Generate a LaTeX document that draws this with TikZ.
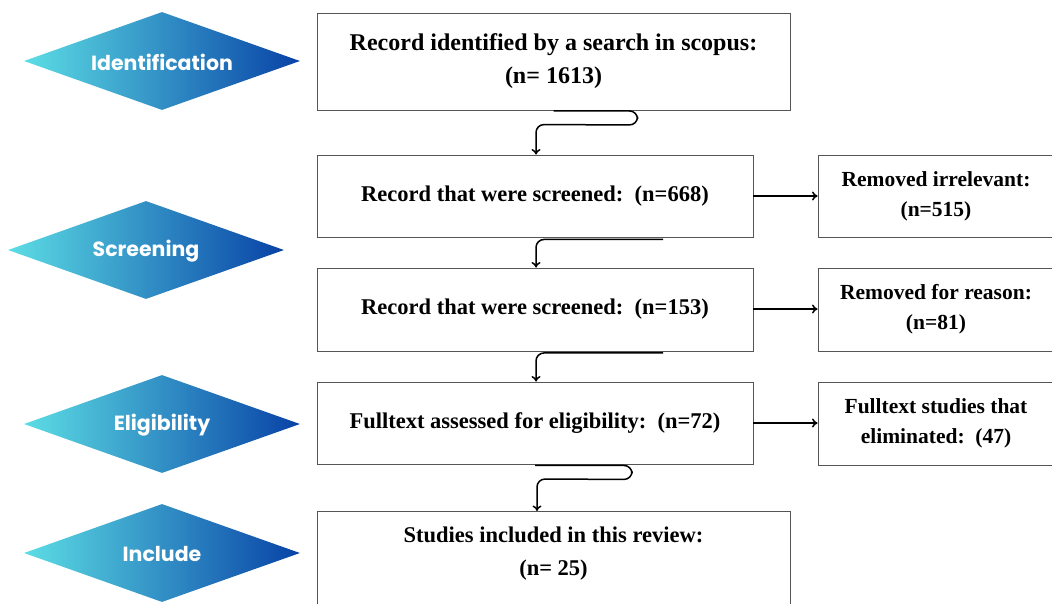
\documentclass[tikz,border=0pt]{standalone}
\usepackage{fontspec}
\setmainfont{Liberation Serif}
\newfontfamily\popfont{Poppins}
\usetikzlibrary{shapes.geometric,arrows.meta,calc}
\definecolor{lightc}{HTML}{5CDDE4}
\definecolor{darkc}{HTML}{0842A6}
\definecolor{boxline}{HTML}{555555}
\tikzset{
  phase/.style={diamond, shape aspect=2.8, inner sep=0pt, minimum width=276pt, minimum height=98pt,
    left color=lightc, right color=darkc, draw=none, text=white,
    font=\popfont\bfseries\fontsize{20.5}{24}\selectfont},
  phasetext/.style={text=white, font=\popfont\bfseries\fontsize{20.5}{24}\selectfont},
  stepbox/.style={rectangle, draw=boxline, line width=0.9pt, fill=white, align=center,
    inner sep=0pt, font=\bfseries\fontsize{22.5}{33}\selectfont},
  sidebox/.style={stepbox, minimum width=236pt, font=\bfseries\fontsize{21.5}{30}\selectfont},
  conn/.style={line width=1.5pt, rounded corners=8pt, -{To[length=5.5pt,width=9pt]}},
  harrow/.style={line width=1.5pt, -{To[length=5.5pt,width=9pt]}}
}
\begin{document}
\begin{tikzpicture}[x=1pt,y=-1pt]
\useasboundingbox[fill=white] (0,0) rectangle (1052,603);
% phase diamonds
\node[phase] (idf) at (162,61) {};
\node[phase] (scr) at (146,250) {};
\node[phase] (elg) at (162,424) {};
\node[phase] (inc) at (162,553) {};
\node[phasetext] (idft) at ($(idf.center)+(0,1.5)$) {Identification};
\node[phasetext] (scrt) at ($(scr.center)+(0,1.5)$) {Screening};
\node[phasetext] (elgt) at ($(elg.center)+(0,1.5)$) {Eligibility};
\node[phasetext] (inct) at ($(inc.center)+(0,1)$) {Include};
% main boxes
\node[stepbox, minimum width=473pt, minimum height=97pt, font=\bfseries\fontsize{24}{33}\selectfont] (b1) at (553.5,61.5)
  {Record identified by a search in scopus:\\(n= 1613)};
\node[stepbox, minimum width=436pt, minimum height=82pt] (b2) at (535,196)
  {Record that were screened:~~(n=668)};
\node[stepbox, minimum width=436pt, minimum height=83pt] (b3) at (535,309.5)
  {Record that were screened:~~(n=153)};
\node[stepbox, minimum width=436pt, minimum height=82pt] (b4) at (535,423)
  {Fulltext assessed for eligibility:~~(n=72)};
\node[stepbox, minimum width=473pt, minimum height=130pt, anchor=north] (b5) at (553.5,511) {};
\node[font=\bfseries\fontsize{22.5}{33}\selectfont, align=center] (t5) at (553.5,554)
  {Studies included in this review:\\(n= 25)};
% side boxes
\node[sidebox, minimum height=82pt] (r1) at (936,196)
  {Removed irrelevant:\\(n=515)};
\node[sidebox, minimum height=83pt] (r2) at (936,309.5)
  {Removed for reason:\\(n=81)};
\node[sidebox, minimum height=83pt] (r3) at (936,423.5)
  {Fulltext studies that\\eliminated:~~(47)};
% horizontal arrows
\draw[harrow] (b2.east) -- (b2.east -| r1.west);
\draw[harrow] ($(b3.east)+(0,-0.5)$) -- ($(b3.east -| r2.west)+(0,-0.5)$);
\draw[harrow] (b4.east) -- (b4.east -| r3.west);
% vertical connectors
\draw[conn] ($(b1.south)+(0,0.5)$) -- ++(84,0) -- ++(0,14) -- ($(b2.north)+(1,-30)$) -- ($(b2.north)+(1,0)$);
\draw[conn] ($(b2.south)+(128,2)$) -- ($(b2.south)+(1,2)$) -- ($(b3.north)+(1,0)$);
\draw[conn] ($(b3.south)+(128,1.5)$) -- ($(b3.south)+(1,1.5)$) -- ($(b4.north)+(1,0)$);
\draw[conn] ($(b4.south)+(0,1)$) -- ++(97,0) -- ++(0,14) -- ($(b5.north)+(-16.5,-32)$) -- ($(b5.north)+(-16.5,0)$);
\end{tikzpicture}
\end{document}
